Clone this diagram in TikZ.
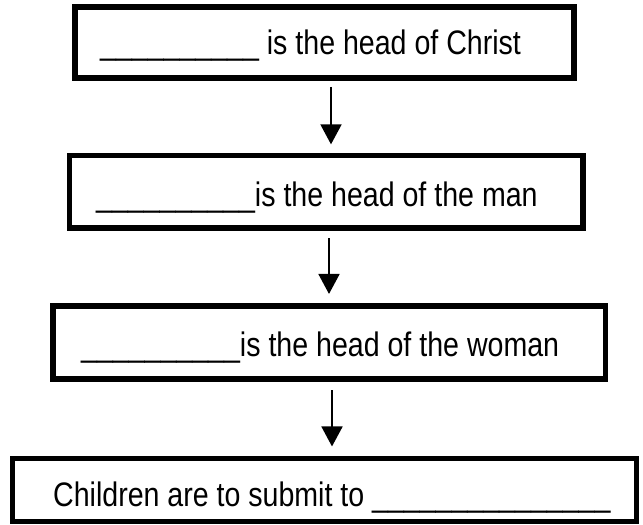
\documentclass[tikz,border=0pt]{standalone}
\usepackage{fontspec}
\setmainfont[FakeStretch=0.84]{Liberation Sans}
\usetikzlibrary{arrows.meta}
\tikzset{
  box/.style={draw=black, line width=5.5pt, rectangle, inner sep=0pt, fill=white},
  lbl/.style={anchor=base west, inner sep=0pt, font=\fontsize{34}{40}\selectfont},
  arr/.style={line width=1.8pt, -{Triangle[width=21pt,length=20pt]}}
}
\begin{document}
\begin{tikzpicture}[x=1pt,y=-1pt]
\useasboundingbox[fill=white] (0,0) rectangle (643,525);
\node[box, minimum width=499pt, minimum height=71pt] (b1) at (324.5,42.5) {};
\node[box, minimum width=513.5pt, minimum height=72.5pt] (b2) at (326.25,191.75) {};
\node[box, minimum width=552.5pt, minimum height=73pt] (b3) at (329.25,342.5) {};
\node[box, minimum width=624pt, minimum height=63pt] (b4) at (324.6,490) {};
\node[lbl] (t1) at (100,54) {\_\_\_\_\_\_\_\_\_\_ is the head of Christ};
\node[lbl] (t2) at (96,206) {\_\_\_\_\_\_\_\_\_\_is the head of the man};
\node[lbl] (t3) at (81,356) {\_\_\_\_\_\_\_\_\_\_is the head of the woman};
\node[lbl] (t4) at (53,506) {Children are to submit to \_\_\_\_\_\_\_\_\_\_\_\_\_\_\_};
\coordinate (x1) at (331,0);
\coordinate (x2) at (329,0);
\coordinate (x3) at (332,0);
\draw[arr, shorten <=6pt, shorten >=8.4pt] (b1.south -| x1) -- (b2.north -| x1);
\draw[arr, shorten <=7.3pt, shorten >=9.3pt] (b2.south -| x2) -- (b3.north -| x2);
\draw[arr, shorten <=8.3pt, shorten >=9.3pt] (b3.south -| x3) -- (b4.north -| x3);
\end{tikzpicture}
\end{document}
